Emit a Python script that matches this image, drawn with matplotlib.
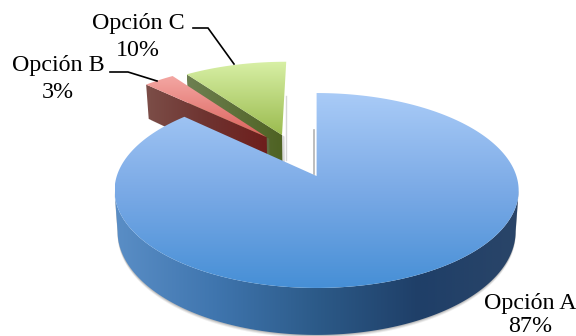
import numpy as np
import matplotlib
matplotlib.use("Agg")
import matplotlib.pyplot as plt
from matplotlib.colors import LinearSegmentedColormap as LSC
from matplotlib.patches import Polygon

labels = ["Opción A", "Opción B", "Opción C"]
shares = [87, 3, 10]

# perspective projection parameters (pixels)
CX, HY, S, T, P, H = 316.6, 176.0, 199.8, 95.3, 0.1487, 40.0
offsets = [(0.0, 0.0), (-0.266, 0.434), (-0.185, 0.459)]
top_cols = [["#A9CBF7", "#7BAAE6", "#468FD6"], ["#F4A8A4", "#DC625C"], ["#D8F0A6", "#9BBB4F"]]
wall_cols = [["#5A8EC6", "#3F75AE", "#2C5A88", "#1F3F68", "#2A4568"],
             ["#7C4E48", "#6E3330", "#6E1E1C"], ["#6E8052", "#4E6222"]]
label_pos = [(530, 303, 326), (58, 65, 92), (138, 23, 50)]
leaders = [None, [(110, 72), (128, 72), (157, 81)], [(193, 28), (208, 28), (234, 64)]]

plt.rcParams["font.family"] = ["Liberation Serif", "DejaVu Serif"]
fig = plt.figure(figsize=(5.76, 3.36), dpi=100)
ax = fig.add_axes([0, 0, 1, 1])
ax.set_xlim(0, 576)
ax.set_ylim(336, 0)
ax.axis("off")


def proj(X, Y, drop=False):
    d = 1 + P * Y
    sx, sy = S * X / d, HY - T * Y / d
    if drop:
        sx, sy = sx * 0.985, sy + H / d
    return np.column_stack([CX + sx, sy])


def circle(th, off, drop=False):
    return proj(np.sin(th) + off[0], np.cos(th) + off[1], drop)


def gradient(poly, cols, horizontal=False, z=2):
    patch = Polygon(poly, closed=True, fc="none", ec="none", transform=ax.transData)
    ax.add_patch(patch)
    lo, hi = poly.min(axis=0), poly.max(axis=0)
    g = np.linspace(0, 1, 256).reshape(1, -1) if horizontal else np.linspace(0, 1, 256).reshape(-1, 1)
    im = ax.imshow(g, cmap=LSC.from_list("g", cols), extent=(lo[0], hi[0], hi[1], lo[1]),
                   aspect="auto", zorder=z, interpolation="bilinear")
    im.set_clip_path(patch)
    ax.set_xlim(0, 576)
    ax.set_ylim(336, 0)


edges = np.deg2rad(np.cumsum([0] + shares) * 3.6)
apex = [proj(np.array([o[0]]), np.array([o[1]])) for o in offsets]
apex_low = [proj(np.array([o[0]]), np.array([o[1]]), True) for o in offsets]

# C, then B, then A (back to front)
for i, z in ((2, 2), (1, 4)):
    th = np.linspace(edges[i], edges[i + 1], 40)
    top = np.vstack([apex[i], circle(th, offsets[i])])
    e0, e1 = circle(th[:1], offsets[i]), circle(th[:1], offsets[i], True)
    wall = np.vstack([e0, apex[i], apex_low[i], e1])
    ax.add_patch(Polygon(wall + [2.5, 1.5], closed=True, fc="#808080", ec="none", alpha=0.3, zorder=z - 0.5))
    gradient(wall, wall_cols[i], True, z)
    gradient(top, top_cols[i], False, z + 1)

# shadow and wall of A
c0 = np.arccos(-P)
th_front = np.linspace(c0, 2 * np.pi - c0, 300)
front_top = circle(th_front, offsets[0])
front_low = circle(th_front, offsets[0], True)
wall = np.vstack([front_top, front_low[::-1]])
for w, a in ((3.0, 0.12), (2.0, 0.18), (1.0, 0.25)):
    ax.add_patch(Polygon(wall + [0, w], closed=True, fc="#707070", ec="none", alpha=a, zorder=6))
gradient(wall, wall_cols[0], True, 7)

# soft shadow left of A's cut edge and right of C
ax.plot([313.5, 313.5], [130, 174], color="#808080", lw=1.2, alpha=0.6, zorder=1)
ax.plot([285.5, 285.5], [96, 160], color="#B0B0B0", lw=1.0, alpha=0.5, zorder=1)

th = np.linspace(edges[0], edges[1], 400)
top = np.vstack([apex[0], circle(th, offsets[0])])
gradient(top, top_cols[0], False, 8)

for name, val, (x, y1, y2), lead in zip(labels, shares, label_pos, leaders):
    ax.text(x, y1, name, ha="center", va="center", fontsize=17.3, color="black", zorder=10)
    ax.text(x, y2, f"{val}%", ha="center", va="center", fontsize=17.3, color="black", zorder=10)
    if lead:
        ax.plot(*zip(*lead), color="black", lw=1.2, zorder=9, solid_joinstyle="miter")

fig.savefig("out.png", dpi=100)
